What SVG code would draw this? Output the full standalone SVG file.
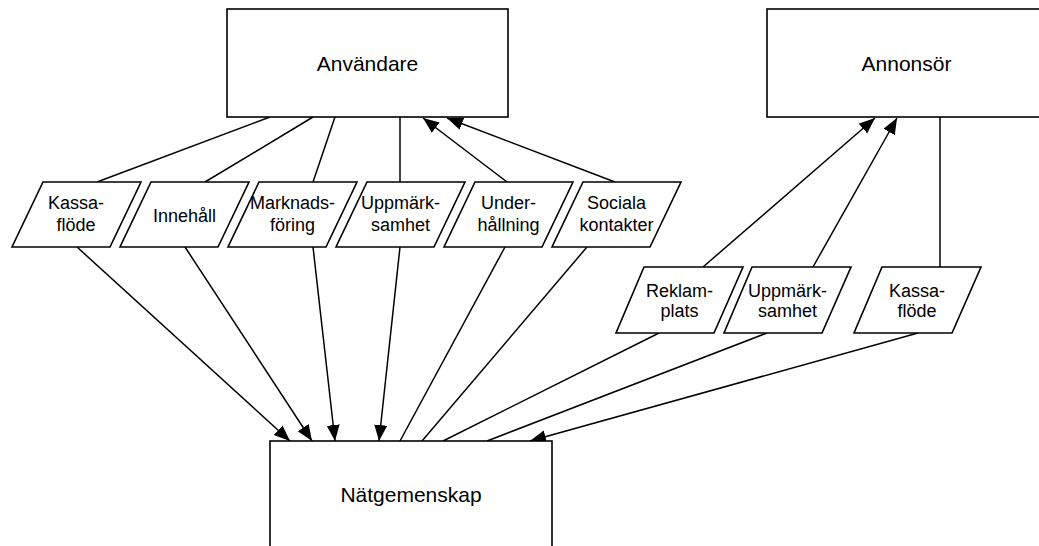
<svg xmlns="http://www.w3.org/2000/svg" width="1039" height="546" viewBox="0 0 1039 546">
  <style>
    .box { fill: #ffffff; stroke: #000000; stroke-width: 1.6; }
    .lbl { font-family: "Liberation Sans", Arial, sans-serif; font-size: 21px; fill: #000000; text-anchor: middle; }
    .sm { font-family: "Liberation Sans", Arial, sans-serif; font-size: 18px; fill: #000000; text-anchor: middle; }
    .edge { stroke: #000000; stroke-width: 1.5; fill: none; }
    .arr { marker-end: url(#head); }
  </style>
  <defs>
    <marker id="head" markerUnits="userSpaceOnUse" markerWidth="17" markerHeight="14" refX="16" refY="6.5" orient="auto">
      <path d="M0,0 L16,6.5 L0,13 Z" fill="#000000"/>
    </marker>
  </defs>

  <rect width="1039" height="546" fill="#ffffff"/>

  <!-- connectors -->
  <g id="connectors">
    <!-- Användare to first row -->
    <line class="edge" x1="270" y1="117" x2="97" y2="182"/>
    <line class="edge" x1="313" y1="117" x2="205" y2="182"/>
    <line class="edge" x1="335" y1="117" x2="313" y2="182"/>
    <line class="edge" x1="400" y1="117" x2="400" y2="182"/>
    <line class="edge arr" x1="507" y1="182" x2="423" y2="118"/>
    <line class="edge arr" x1="615" y1="182" x2="447" y2="118"/>

    <!-- first row to Nätgemenskap -->
    <line class="edge arr" x1="77" y1="247" x2="290" y2="441"/>
    <line class="edge arr" x1="185" y1="247" x2="312" y2="441"/>
    <line class="edge arr" x1="313" y1="247" x2="335" y2="441"/>
    <line class="edge arr" x1="400" y1="247" x2="379" y2="441"/>
    <line class="edge" x1="505" y1="247" x2="400" y2="441"/>
    <line class="edge" x1="587" y1="247" x2="422" y2="441"/>

    <!-- advertiser row to Nätgemenskap -->
    <line class="edge" x1="659" y1="333" x2="443" y2="441"/>
    <line class="edge" x1="767" y1="333" x2="487" y2="441"/>
    <line class="edge arr" x1="918" y1="333" x2="530" y2="441"/>

    <!-- advertiser row to Annonsör -->
    <line class="edge arr" x1="703" y1="267" x2="875" y2="118"/>
    <line class="edge arr" x1="813" y1="267" x2="897" y2="118"/>
    <line class="edge" x1="940" y1="117" x2="940" y2="267"/>
  </g>

  <!-- main nodes -->
  <g id="anvandare">
    <rect class="box" x="227" y="9" width="281" height="108"/>
    <text class="lbl" x="367.5" y="71">Användare</text>
  </g>
  <g id="annonsor">
    <rect class="box" x="767" y="9" width="279" height="108"/>
    <text class="lbl" x="906.5" y="71">Annonsör</text>
  </g>
  <g id="natgemenskap">
    <rect class="box" x="270" y="441" width="282" height="110"/>
    <text class="lbl" x="411" y="502">Nätgemenskap</text>
  </g>

  <!-- first row of flows -->
  <g id="kassaflode-1">
    <polygon class="box" points="43,182 141,182 110,247 12,247"/>
    <text class="sm" x="76" y="209">Kassa-</text>
    <text class="sm" x="76" y="231">flöde</text>
  </g>
  <g id="innehall">
    <polygon class="box" points="151,182 249,182 218,247 120,247"/>
    <text class="sm" x="184.5" y="222">Innehåll</text>
  </g>
  <g id="marknadsforing">
    <polygon class="box" points="259,182 357,182 326,247 228,247"/>
    <text class="sm" x="292.5" y="209">Marknads-</text>
    <text class="sm" x="292.5" y="231">föring</text>
  </g>
  <g id="uppmarksamhet-1">
    <polygon class="box" points="367,182 465,182 434,247 336,247"/>
    <text class="sm" x="400.5" y="209">Uppmärk-</text>
    <text class="sm" x="400.5" y="231">samhet</text>
  </g>
  <g id="underhallning">
    <polygon class="box" points="475,182 573,182 542,247 444,247"/>
    <text class="sm" x="508.5" y="209">Under-</text>
    <text class="sm" x="508.5" y="231">hållning</text>
  </g>
  <g id="sociala-kontakter">
    <polygon class="box" points="583,182 681,182 650,247 552,247"/>
    <text class="sm" x="616.5" y="209">Sociala</text>
    <text class="sm" x="616.5" y="231">kontakter</text>
  </g>

  <!-- advertiser row of flows -->
  <g id="reklamplats">
    <polygon class="box" points="644,267 743,267 714,333 616,333"/>
    <text class="sm" x="679.5" y="297">Reklam-</text>
    <text class="sm" x="679.5" y="317">plats</text>
  </g>
  <g id="uppmarksamhet-2">
    <polygon class="box" points="752,267 851,267 822,333 724,333"/>
    <text class="sm" x="787.5" y="297">Uppmärk-</text>
    <text class="sm" x="787.5" y="317">samhet</text>
  </g>
  <g id="kassaflode-2">
    <polygon class="box" points="882,267 981,267 952,333 854,333"/>
    <text class="sm" x="917" y="297">Kassa-</text>
    <text class="sm" x="917" y="317">flöde</text>
  </g>
</svg>
